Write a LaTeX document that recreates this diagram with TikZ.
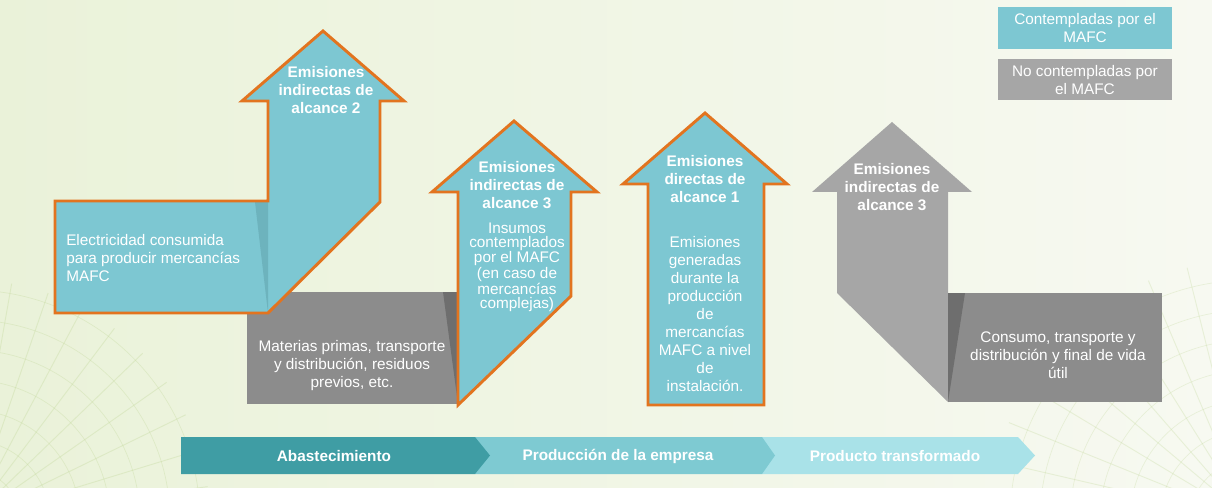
\documentclass[tikz,border=0pt]{standalone}
\usepackage{fontspec}
\setmainfont{Liberation Sans}
\definecolor{bgL}{HTML}{EAF2D9}
\definecolor{bgR}{HTML}{F7F9F1}
\definecolor{arrowblue}{HTML}{7DC7D2}
\definecolor{arrowshade}{HTML}{6DB3BD}
\definecolor{orangeline}{HTML}{E2741F}
\definecolor{graydark}{HTML}{8C8C8C}
\definecolor{grayshade}{HTML}{6E6E6E}
\definecolor{graylight}{HTML}{A6A6A6}
\definecolor{segA}{HTML}{3F9DA4}
\definecolor{segB}{HTML}{7ECAD2}
\definecolor{segC}{HTML}{A9E2E8}
\definecolor{veins}{HTML}{C3D99C}
\begin{document}
\begin{tikzpicture}[x=0.75pt,y=-0.75pt,
  outl/.style={draw=orangeline, line width=2.2pt, line join=miter},
  bluefill/.style={fill=arrowblue},
  vein/.style={veins, line width=0.7pt},
  txt/.style={text=white, align=center, inner sep=0pt, font=\fontsize{11.5}{13.5}\selectfont},
  btxt/.style={txt, font=\fontsize{11.5}{13.5}\selectfont\bfseries},
  bartxt/.style={text=white, inner sep=0pt, font=\fontsize{11.5}{13.5}\selectfont\bfseries}]
\useasboundingbox (0,0) rectangle (1212,488);
\shade[left color=bgL, right color=bgR] (0,0) rectangle (1212,488);
% faint leaf veins (decoration), lower left and lower right corners
\begin{scope}
  \clip (0,0) rectangle (1212,488);
  \begin{scope}[shift={(-30,520)}, opacity=0.35]
    \foreach \ang in {8,17,...,85} {
      \draw[vein] (0,0) -- ++({cos(\ang)*240},{-sin(\ang)*240});
    }
    \foreach \r in {50,80,...,230} {
      \draw[vein, line width=0.5pt] ({\r*cos(5)},{-\r*sin(5)}) arc[start angle=-5, end angle=-88, radius=\r];
    }
  \end{scope}
  \begin{scope}[shift={(1250,520)}, opacity=0.3]
    \foreach \ang in {95,104,...,175} {
      \draw[vein] (0,0) -- ++({cos(\ang)*260},{-sin(\ang)*260});
    }
    \foreach \r in {60,90,...,240} {
      \draw[vein, line width=0.5pt] ({\r*cos(92)},{-\r*sin(92)}) arc[start angle=-92, end angle=-178, radius=\r];
    }
  \end{scope}
\end{scope}
% gray box 1 (behind arrow 1)
\fill[graydark] (247,292) rectangle (458,404);
\fill[grayshade] (443,292) -- (458,292) -- (458,404) -- cycle;
% arrow 1
\fill[bluefill] (55,201) -- (268,201) -- (268,101) -- (242,101) -- (323,31) -- (404,101) -- (380,101) -- (380,202) -- (268,313) -- (55,313) -- cycle;
\fill[arrowshade] (255,202) -- (268,202) -- (268,313) -- cycle;
\draw[outl] (55,201) -- (268,201) -- (268,101) -- (242,101) -- (323,31) -- (404,101) -- (380,101) -- (380,202) -- (268,313) -- (55,313) -- cycle;
% arrow 2
\draw[outl, bluefill] (432,192) -- (514,121) -- (597,192) -- (571,192) -- (571,296) -- (458,405) -- (458,192) -- cycle;
% arrow 3
\draw[outl, bluefill] (623,184) -- (705,113) -- (787,184) -- (764,184) -- (764,405) -- (648,405) -- (648,184) -- cycle;
% arrow 4 (gray) and box 2
\fill[graylight] (812,192) -- (892,122) -- (972,192) -- (948,192) -- (948,402) -- (837,293) -- (837,192) -- cycle;
\fill[graydark] (948,293) rectangle (1162,402);
\fill[grayshade] (948,293) -- (965,293) -- (948,402) -- cycle;
% texts
\node[btxt] (h1) at (326,90) {Emisiones\\indirectas de\\alcance 2};
\node[txt, align=left, anchor=west] (d1) at (66,258) {Electricidad consumida\\para producir mercancías\\MAFC};
\node[btxt] (h2) at (517,185) {Emisiones\\indirectas de\\alcance 3};
\node[txt, font=\fontsize{11.5}{10.6}\selectfont] (d2) at (517,267) {Insumos\\contemplados\\por el MAFC\\(en caso de\\mercancías\\complejas)};
\node[txt] (g1) at (352,366) {Materias primas, transporte\\y distribución, residuos\\previos, etc.};
\node[btxt] (h3) at (705,179) {Emisiones\\directas de\\alcance 1};
\node[txt] (d3) at (705,314) {Emisiones\\generadas\\durante la\\producción\\de\\mercancías\\MAFC a nivel\\de\\instalación.};
\node[btxt] (h4) at (892,187) {Emisiones\\indirectas de\\alcance 3};
\node[txt] (g2) at (1058,355) {Consumo, transporte y\\distribución y final de vida\\útil};
% legend
\fill[arrowblue] (998,7) rectangle (1172,49);
\fill[graylight] (998,59) rectangle (1172,100);
\node[txt] (l1) at (1085,28) {Contempladas por el\\MAFC};
\node[txt] (l2) at (1085,80) {No contempladas por\\el MAFC};
% bottom chevrons
\fill[segC] (762,437) -- (1018,437) -- (1035,455.5) -- (1018,474) -- (762,474) -- cycle;
\fill[segB] (475,437) -- (762,437) -- (775,455.5) -- (762,474) -- (475,474) -- cycle;
\fill[segA] (181,437) -- (475,437) -- (490,455.5) -- (475,474) -- (181,474) -- cycle;
\node[bartxt] (s1) at (334,456) {Abastecimiento};
\node[bartxt] (s2) at (618,456) {Producción de la empresa};
\node[bartxt] (s3) at (895,456) {Producto transformado};
\end{tikzpicture}
\end{document}
